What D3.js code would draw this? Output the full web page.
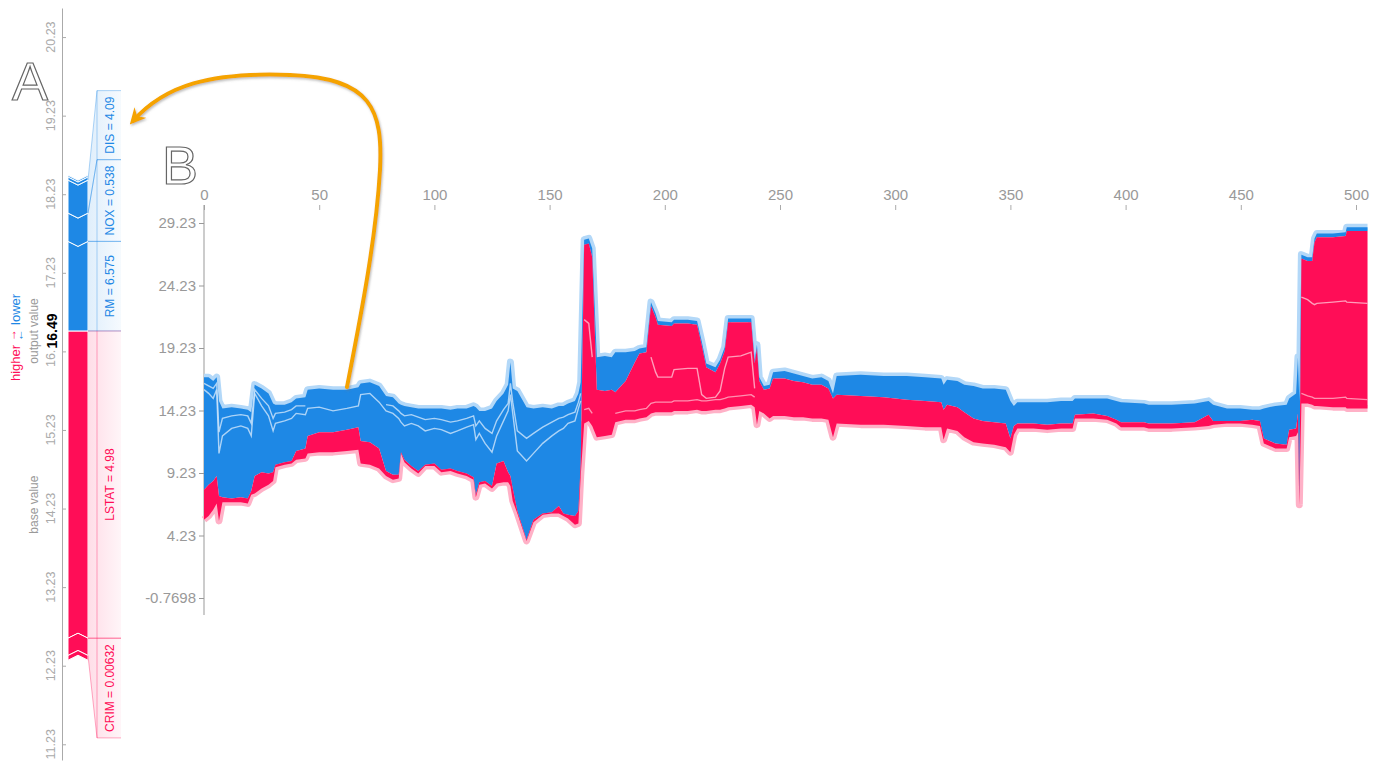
<!DOCTYPE html>
<html>
<head>
<meta charset="utf-8">
<script src="https://cdn.jsdelivr.net/npm/d3@7"></script>
<style>
  body { margin: 0; background: #fff; }
  svg { font-family: "Liberation Sans", Arial, sans-serif; }
</style>
</head>
<body>
<svg id="chart" width="1382" height="764"></svg>
<script>
// ---------- panel B : stacked force plot, one row per breakpoint ----------
const sampleIdx = [
  0, 2, 4, 5.5, 6.5, 8, 12, 16, 19, 20.5,
  22, 25, 28, 30, 31, 35, 38, 40, 44, 45,
  50, 56, 62, 67, 68, 72, 76, 79, 82, 84.5,
  85.5, 87, 90, 93, 96, 100, 103, 107, 110, 114,
  117, 118, 119.5, 122, 125, 127, 130, 132, 133, 134,
  136, 140, 143, 147, 151, 154, 156, 158, 161, 162.5,
  163.5, 165, 167, 168.5, 170.5, 174, 177, 178.5, 183, 187,
  189, 192, 194, 196, 197, 203, 204, 210, 214, 216,
  218, 222, 224, 226, 227.5, 233, 237.5, 239, 240, 241,
  243, 245.5, 247, 252, 256, 260, 264, 268, 271, 273,
  274.6, 285, 295, 305, 313, 320, 321, 322.5, 327, 330,
  334, 338, 343, 348, 350, 351.5, 353, 360, 366, 372,
  377, 378, 386, 392, 396, 398, 408, 410, 420, 430,
  436, 438, 444, 449.7, 455, 458.3, 460, 465, 469.9, 471,
  474, 474.8, 475.4, 476.3, 479, 481, 482, 483, 490, 495.5,
  496, 505
];
// top of the blue (lower-pushing) band
const upperVals = [
  16.9, 16.9, 16.6, 16.9, 15.0, 14.4, 14.5, 14.4, 14.3, 14.1,
  16.3, 16.0, 15.6, 14.8, 14.7, 14.7, 14.9, 15.2, 15.3, 15.9,
  16.0, 15.9, 15.9, 16.1, 16.4, 16.5, 16.2, 15.4, 15.3, 14.8,
  14.7, 14.6, 14.5, 14.4, 14.4, 14.4, 14.4, 14.3, 14.4, 14.4,
  14.6, 14.5, 14.2, 14.2, 14.4, 15.0, 15.6, 16.3, 18.1, 16.0,
  15.8, 14.5, 14.4, 14.5, 14.4, 14.6, 14.6, 14.8, 15.0, 15.6,
  16.5, 27.9, 28.0, 27.2, 18.5, 18.6, 18.5, 18.9, 18.9, 19.0,
  19.2, 19.3, 22.9, 22.0, 21.4, 21.3, 21.5, 21.5, 21.4, 19.8,
  18.0, 17.7, 18.3, 19.3, 21.6, 21.6, 21.6, 18.3, 19.5, 16.9,
  16.2, 16.3, 17.3, 17.4, 17.2, 17.0, 16.8, 16.9, 16.6, 15.6,
  17.0, 17.1, 17.0, 17.0, 16.9, 16.8, 16.3, 16.7, 16.6, 16.3,
  16.2, 16.0, 16.0, 15.9, 15.0, 14.6, 14.9, 14.9, 14.9, 15.0,
  15.0, 15.2, 15.2, 15.2, 15.0, 14.9, 14.8, 14.7, 14.7, 14.8,
  15.0, 14.7, 14.4, 14.4, 14.3, 14.3, 14.4, 14.6, 14.7, 15.2,
  15.6, 18.5, 15.0, 26.7, 26.5, 26.5, 28.0, 28.4, 28.4, 28.5,
  28.9, 28.9
];
// model output (border between red and blue)
const outputVals = [
  7.9, 8.3, 8.6, 9.0, 7.4, 7.3, 7.2, 7.3, 7.2, 7.8,
  9.0, 9.3, 9.2, 9.3, 9.9, 10.1, 10.2, 11.0, 11.2, 12.2,
  12.5, 12.5, 12.7, 12.9, 11.8, 11.7, 11.2, 9.4, 9.1, 9.1,
  10.9, 10.3, 9.8, 9.4, 9.9, 10.0, 9.5, 9.6, 9.4, 9.2,
  8.9, 7.5, 8.5, 8.6, 8.2, 10.0, 10.2, 9.3, 9.0, 8.0,
  6.2, 3.9, 5.5, 6.0, 6.1, 6.6, 6.0, 5.9, 5.8, 6.2,
  10.0, 27.5, 27.6, 26.5, 15.9, 15.8, 15.9, 15.7, 16.6, 18.1,
  18.8, 18.9, 22.6, 21.7, 21.1, 21.0, 21.2, 21.2, 21.1, 19.5,
  17.7, 17.3, 18.0, 19.0, 21.3, 21.3, 21.3, 18.0, 19.2, 16.6,
  15.9, 16.0, 16.8, 16.8, 16.6, 16.5, 16.3, 16.3, 16.0, 15.2,
  15.5, 15.4, 15.3, 15.1, 15.0, 14.9, 14.3, 14.7, 14.5, 14.1,
  13.6, 13.4, 13.3, 13.2, 12.0, 13.0, 13.2, 13.2, 13.1, 13.2,
  13.2, 13.9, 14.0, 13.8, 13.5, 13.3, 13.3, 13.2, 13.2, 13.3,
  13.9, 13.4, 13.4, 13.4, 13.5, 13.4, 12.0, 11.6, 11.5, 12.7,
  12.8, 14.0, 7.3, 26.4, 26.2, 26.2, 27.7, 28.1, 28.1, 28.2,
  28.6, 28.6
];
// bottom of the red (higher-pushing) band
const lowerVals = [
  5.5, 5.8, 6.3, 6.8, 5.4, 6.9, 6.9, 6.9, 6.8, 7.5,
  7.6, 8.0, 8.3, 8.6, 9.7, 9.9, 10.0, 10.3, 10.4, 10.8,
  10.9, 10.9, 11.0, 11.1, 10.0, 9.9, 9.6, 9.0, 8.7, 8.8,
  10.8, 10.1, 9.6, 9.2, 9.8, 9.8, 9.3, 9.4, 9.2, 9.0,
  8.7, 7.3, 8.3, 8.4, 8.0, 8.4, 8.5, 8.5, 8.2, 7.0,
  6.0, 3.8, 5.3, 5.9, 6.0, 6.0, 5.8, 5.6, 5.1, 5.2,
  9.0, 13.2, 13.4, 13.0, 12.1, 12.2, 12.3, 13.3, 13.5, 13.5,
  13.6, 13.7, 14.0, 14.1, 14.1, 14.1, 14.2, 14.2, 14.3, 14.2,
  14.2, 14.3, 14.3, 14.4, 14.5, 14.6, 14.7, 14.5, 13.1, 14.2,
  14.0, 13.6, 13.8, 13.8, 13.7, 13.7, 13.6, 13.6, 13.5, 12.1,
  13.2, 13.1, 13.1, 13.0, 12.9, 12.9, 11.9, 12.8, 12.6, 12.1,
  11.7, 11.6, 11.5, 11.3, 10.9, 12.3, 12.8, 12.8, 12.7, 12.8,
  12.8, 13.6, 13.6, 13.5, 13.2, 12.9, 12.9, 12.8, 12.8, 12.9,
  13.0, 13.1, 13.2, 13.2, 13.1, 13.0, 11.6, 11.2, 11.2, 12.1,
  12.2, 12.5, 6.7, 14.8, 14.8, 14.7, 14.6, 14.6, 14.5, 14.5,
  14.4, 14.4
];
// feature borders visible inside the blue band
const blueLineVals = [
  15.9, 15.6, 15.2, 15.9, 10.8, 12.2, 12.8, 13.0, 12.8, 12.2,
  15.6, 14.6, 13.8, 12.6, 13.2, 13.4, 13.6, 14.0, 13.9, 14.4,
  14.5, 14.2, 14.4, 14.6, 15.5, 15.6, 14.9, 14.2, 14.0, 13.6,
  13.3, 13.0, 13.2, 13.0, 12.6, 12.8, 12.7, 12.4, 12.6, 12.9,
  13.1, 11.9, 12.4, 11.6, 10.9, 12.2, 13.4, 14.2, 15.5, 14.0,
  11.0, 10.2, 10.8, 11.6, 12.2, 12.6, 12.8, 13.2, 13.4, 14.4,
  15.0, null, null, null, null, null, null, null, null, null,
  null, null, null, null, null, null, null, null, null, null,
  null, null, null, null, null, null, null, null, null, null,
  null, null, null, null, null, null, null, null, null, null,
  null, null, null, null, null, null, null, null, null, null,
  null, null, null, null, null, null, null, null, null, null,
  null, null, null, null, null, null, null, null, null, null,
  null, null, null, null, null, null, null, null, null, null,
  null, null, null, null, null, null, null, null, null, null,
  null, null
];
const blueLine2Vals = [
  16.4, 16.2, 16.0, 16.4, 12.5, 13.6, 13.8, 13.9, 13.8, 13.2,
  15.9, 15.2, 14.6, 13.6, 14.0, 14.1, 14.3, 14.6, 14.6, null,
  null, null, null, null, null, null, null, 14.7, 14.6, 14.2,
  14.0, 13.8, 13.9, 13.7, 13.5, 13.6, 13.5, 13.3, 13.4, 13.6,
  13.8, 13.0, 13.4, 12.8, 12.4, 13.4, 14.3, 14.8, 16.4, 14.9,
  12.6, 12.0, 12.4, 12.9, 13.3, 13.6, 13.7, 13.9, 14.1, 14.9,
  15.6, null, null, null, null, null, null, null, null, null,
  null, null, null, null, null, null, null, null, null, null,
  null, null, null, null, null, null, null, null, null, null,
  null, null, null, null, null, null, null, null, null, null,
  null, null, null, null, null, null, null, null, null, null,
  null, null, null, null, null, null, null, null, null, null,
  null, null, null, null, null, null, null, null, null, null,
  null, null, null, null, null, null, null, null, null, null,
  null, null, null, null, null, null, null, null, null, null,
  null, null
];
// feature borders visible inside the red band
const redLineVals = [
  null, null, null, null, null, null, null, null, null, null,
  null, null, null, null, null, null, null, null, null, null,
  null, null, null, null, null, null, null, null, null, null,
  null, null, null, null, null, null, null, null, null, null,
  null, null, null, null, null, null, null, null, null, null,
  null, null, null, null, null, null, null, null, null, null,
  null, 21.5, 21.2, 18.5, null, null, null, null, null, null,
  null, null, 18.5, 17.3, 16.9, 16.9, 17.5, 17.6, 17.6, 15.5,
  15.2, 15.3, 15.8, 17.6, 18.5, 18.6, 18.9, 16.0, null, null,
  null, null, null, null, null, null, null, null, null, null,
  null, null, null, null, null, null, null, null, null, null,
  null, null, null, null, null, null, null, null, null, null,
  null, null, null, null, null, null, null, null, null, null,
  null, null, null, null, null, null, null, null, null, null,
  null, null, null, 23.3, 23.1, 22.8, 22.7, 22.8, 22.9, 23.0,
  22.9, 22.8
];
const redLine2Vals = [
  null, null, null, null, null, null, null, null, null, null,
  null, null, null, null, null, null, null, null, null, null,
  null, null, null, null, null, null, null, null, null, null,
  null, null, null, null, null, null, null, null, null, null,
  null, null, null, null, null, null, null, null, null, null,
  null, null, null, null, null, null, null, null, null, null,
  null, 14.3, 14.4, 14.0, null, null, null, 14.0, 14.2, 14.2,
  14.3, 14.4, 14.8, 14.9, 14.9, 14.9, 15.0, 15.0, 15.1, 15.0,
  15.0, 15.1, 15.1, 15.2, 15.3, 15.4, 15.5, 15.3, null, null,
  null, null, null, null, null, null, null, null, null, null,
  null, null, null, null, null, null, null, null, null, null,
  null, null, null, null, null, null, null, null, null, null,
  null, null, null, null, null, null, null, null, null, null,
  null, null, null, null, null, null, null, null, null, null,
  null, null, null, 15.6, 15.4, 15.3, 15.2, 15.2, 15.2, 15.3,
  15.2, 15.1
];
const xTicksB = [0, 50, 100, 150, 200, 250, 300, 350, 400, 450, 500];
const yTicksB = [29.23, 24.23, 19.23, 14.23, 9.23, 4.23, -0.7698];

// ---------- panel A : single explanation ----------
const outputValue = 16.49;
const redLabels = ["LSTAT = 4.98", "CRIM = 0.00632", ""];
const redEffects = [3.91, 0.22, 0.06];
const blueLabels = ["RM = 6.575", "NOX = 0.538", "DIS = 4.09", "", ""];
const blueEffects = [1.14, 0.36, 0.42, 0.04, 0.02];
const yTicksA = [20.23, 19.23, 18.23, 17.23, 16.23, 15.23, 14.23, 13.23, 12.23, 11.23];

const RED = "#ff0d57", BLUE = "#1e88e5";
const svg = d3.select("#chart");
const defs = svg.append("defs");

// ================= panel A =================
const yA = d3.scaleLinear().domain([20.6, 11.03]).range([8, 760]);
const AX = 62, BAR0 = 68, BAR1 = 88, BOX0 = 97, BOX1 = 121, CHEV = 5;

svg.append("g")
  .attr("transform", "translate(" + AX + ",0)")
  .call(d3.axisRight(yA).tickValues(yTicksA).tickSize(4).tickSizeOuter(0).tickFormat(""))
  .call(g => g.selectAll("path,line").attr("stroke", "#aaa"));

svg.append("g").selectAll("text")
  .data(yTicksA)
  .enter().append("text")
  .attr("transform", d => "translate(55," + yA(d) + ") rotate(-90)")
  .attr("text-anchor", "middle")
  .attr("font-size", 12.5)
  .attr("fill", "#aaa")
  .text(d => d.toFixed(2));

// feature blocks
var redBlocks = [], blueBlocks = [], acc = outputValue;
redEffects.forEach((e, k) => { redBlocks.push({lo: acc - e, hi: acc, label: redLabels[k]}); acc -= e; });
acc = outputValue;
blueEffects.forEach((e, k) => { blueBlocks.push({lo: acc, hi: acc + e, label: blueLabels[k]}); acc += e; });
const baseValue = outputValue - d3.sum(redEffects) + d3.sum(blueEffects);
const BM = (BAR0 + BAR1) / 2;

svg.append("g").selectAll("path.red")
  .data(redBlocks)
  .enter().append("path")
  .attr("d", d => {
    const t = yA(d.hi), b = yA(d.lo);
    const tm = d.hi === outputValue ? t : t - CHEV;
    return "M" + BAR0 + "," + t + "L" + BM + "," + tm + "L" + BAR1 + "," + t +
      "L" + BAR1 + "," + b + "L" + BM + "," + (b - CHEV) + "L" + BAR0 + "," + b + "Z";
  })
  .attr("fill", RED).attr("stroke", "#fff").attr("stroke-width", 1);

svg.append("g").selectAll("path.blue")
  .data(blueBlocks)
  .enter().append("path")
  .attr("d", d => {
    const t = yA(d.hi), b = yA(d.lo);
    const bm = d.lo === outputValue ? b : b + CHEV;
    return "M" + BAR0 + "," + b + "L" + BM + "," + bm + "L" + BAR1 + "," + b +
      "L" + BAR1 + "," + t + "L" + BM + "," + (t + CHEV) + "L" + BAR0 + "," + t + "Z";
  })
  .attr("fill", BLUE).attr("stroke", "#fff").attr("stroke-width", 1);

// label boxes
[["redGrad", RED], ["blueGrad", BLUE]].forEach(p => {
  const gr = defs.append("linearGradient").attr("id", p[0]).attr("x1", "0").attr("x2", "1");
  gr.append("stop").attr("offset", "0").attr("stop-color", p[1]).attr("stop-opacity", 0.14);
  gr.append("stop").attr("offset", "1").attr("stop-color", p[1]).attr("stop-opacity", 0.04);
});

const labelG = svg.append("g");
function measure(txt) {
  const t = labelG.append("text").attr("font-size", 12).text(txt);
  const w = t.node().getComputedTextLength();
  t.remove();
  return w;
}
function layoutLabels(blocks, dir, color, grad) {
  var cursor = yA(outputValue);
  blocks.filter(d => d.label).forEach(d => {
    const fs = dir > 0 ? yA(d.hi) : yA(d.lo);
    const fe = dir > 0 ? yA(d.lo) : yA(d.hi);
    const bs = dir > 0 ? Math.max(cursor, fs) : Math.min(cursor, fs);
    const len = Math.max((fe - bs) * dir, measure(d.label) + 12);
    const be = bs + dir * len;
    cursor = be;
    labelG.append("path")
      .attr("d", "M" + BAR1 + "," + fs + "L" + BOX0 + "," + bs + "L" + BOX1 + "," + bs +
        "L" + BOX1 + "," + be + "L" + BOX0 + "," + be + "L" + BAR1 + "," + fe + "Z")
      .attr("fill", "url(#" + grad + ")");
    labelG.append("path")
      .attr("d", "M" + BOX1 + "," + bs + "L" + BOX0 + "," + bs + "L" + BAR1 + "," + fs +
        "M" + BOX1 + "," + be + "L" + BOX0 + "," + be + "L" + BAR1 + "," + fe +
        "M" + BOX0 + "," + bs + "L" + BOX0 + "," + be)
      .attr("fill", "none").attr("stroke", color).attr("stroke-opacity", 0.35).attr("stroke-width", 1);
    labelG.append("text")
      .attr("transform", "translate(114," + (bs + be) / 2 + ") rotate(-90)")
      .attr("text-anchor", "middle")
      .attr("font-size", 12)
      .attr("fill", color)
      .text(d.label);
  });
}
layoutLabels(redBlocks, 1, RED, "redGrad");
layoutLabels(blueBlocks, -1, BLUE, "blueGrad");

// output / base value texts
const yOut = yA(outputValue);
svg.append("rect").attr("x", 42).attr("y", yOut - 20).attr("width", 17).attr("height", 39).attr("fill", "#fff");
svg.append("text")
  .attr("transform", "translate(57," + yOut + ") rotate(-90)")
  .attr("text-anchor", "middle").attr("font-size", 14).attr("font-weight", "bold").attr("fill", "#000")
  .text(outputValue.toFixed(2));
svg.append("text")
  .attr("transform", "translate(38," + yOut + ") rotate(-90)")
  .attr("text-anchor", "middle").attr("font-size", 12).attr("fill", "#999")
  .text("output value");
svg.append("text")
  .attr("transform", "translate(38," + yA(baseValue) + ") rotate(-90)")
  .attr("text-anchor", "middle").attr("font-size", 12).attr("fill", "#999")
  .text("base value");

const hl = svg.append("g").attr("transform", "translate(20," + (yOut + 4) + ") rotate(-90)");
hl.append("text").attr("x", -10).attr("text-anchor", "end").attr("font-size", 13).attr("fill", RED).text("higher");
hl.append("text").attr("x", 0).attr("y", -4).attr("text-anchor", "middle").attr("font-size", 12).attr("fill", RED).text("\u2192");
hl.append("text").attr("x", 0).attr("y", 3).attr("text-anchor", "middle").attr("font-size", 12).attr("fill", BLUE).text("\u2190");
hl.append("text").attr("x", 10).attr("text-anchor", "start").attr("font-size", 13).attr("fill", BLUE).text("lower");

// ================= panel B =================
const xB = d3.scaleLinear().domain([0, 506]).range([204, 204 + 506 * 2.304]);
const yB = d3.scaleLinear().domain([29.23, -0.7698]).range([223, 598]);
const rows = sampleIdx.map((s, k) => ({
  i: s, up: upperVals[k], out: outputVals[k], low: lowerVals[k],
  bl: blueLineVals[k], bl2: blueLine2Vals[k], rl: redLineVals[k], rl2: redLine2Vals[k]
}));

svg.append("g")
  .attr("transform", "translate(0,210)")
  .call(d3.axisTop(xB).tickValues(xTicksB).tickSize(5).tickPadding(5))
  .call(g => g.select(".domain").remove())
  .call(g => g.selectAll("line").attr("stroke", "#aaa"))
  .call(g => g.selectAll("text").attr("fill", "#999").attr("font-size", 15).attr("font-family", null));

const yAxisB = d3.axisLeft(yB).tickValues(yTicksB).tickFormat(d => String(d)).tickSize(5).tickPadding(3).tickSizeOuter(0);
const yG = svg.append("g").attr("transform", "translate(204,0)").call(yAxisB);
yG.select(".domain").attr("d", "M0," + 205 + "V" + 615);
yG.selectAll("path,line").attr("stroke", "#999");
yG.selectAll("text").attr("fill", "#999").attr("font-size", 15).attr("font-family", null);

const edgeUp = d3.line().x(d => xB(d.i)).y(d => yB(d.up));
const edgeLow = d3.line().x(d => xB(d.i)).y(d => yB(d.low));
svg.append("path").datum(rows).attr("d", edgeUp)
  .attr("fill", "none").attr("stroke", "#b3d8f8").attr("stroke-width", 7).attr("stroke-linejoin", "round");
svg.append("path").datum(rows).attr("d", edgeLow)
  .attr("fill", "none").attr("stroke", "#ffb1c7").attr("stroke-width", 7).attr("stroke-linejoin", "round");

svg.append("path").datum(rows)
  .attr("d", d3.area().x(d => xB(d.i)).y0(d => yB(d.out)).y1(d => yB(d.up)))
  .attr("fill", BLUE);
svg.append("path").datum(rows)
  .attr("d", d3.area().x(d => xB(d.i)).y0(d => yB(d.low)).y1(d => yB(d.out)))
  .attr("fill", RED);

function innerLine(key, color) {
  svg.append("path").datum(rows)
    .attr("d", d3.line().defined(d => d[key] != null).x(d => xB(d.i)).y(d => yB(d[key])))
    .attr("fill", "none").attr("stroke", color).attr("stroke-opacity", 0.8).attr("stroke-width", 1.4);
}
innerLine("bl", "#cfe6fb");
innerLine("bl2", "#cfe6fb");
innerLine("rl", "#ffc2d3");
innerLine("rl2", "#ffb1c7");

// ================= annotations =================
svg.append("text").attr("x", 12).attr("y", 100).attr("font-size", 54)
  .attr("font-family", "'Liberation Sans Narrow','Liberation Sans',Arial")
  .attr("fill", "#fff").attr("stroke", "#666").attr("stroke-width", 1.2).text("A");
svg.append("text").attr("x", 162).attr("y", 184).attr("font-size", 54)
  .attr("font-family", "'Liberation Sans Narrow','Liberation Sans',Arial")
  .attr("fill", "#fff").attr("stroke", "#666").attr("stroke-width", 1.2).text("B");

const shadow = defs.append("filter").attr("id", "shadow").attr("x", "-20%").attr("y", "-20%").attr("width", "140%").attr("height", "140%");
shadow.append("feDropShadow").attr("dx", 1).attr("dy", 1.5).attr("stdDeviation", 1.2)
  .attr("flood-color", "#777").attr("flood-opacity", 0.5);
defs.append("marker").attr("id", "head").attr("viewBox", "0 0 10 10")
  .attr("refX", 7).attr("refY", 5).attr("markerWidth", 16).attr("markerHeight", 16)
  .attr("markerUnits", "userSpaceOnUse").attr("orient", "auto")
  .append("path").attr("d", "M0,0 L10,5 L0,10 L3,5 Z").attr("fill", "#f5a300");
svg.append("path")
  .attr("d", "M347,387 C360,320 376,240 380,170 C383,110 372,78 290,75 C210,72 165,85 133,121")
  .attr("fill", "none").attr("stroke", "#f5a300").attr("stroke-width", 4).attr("stroke-linecap", "round")
  .attr("marker-end", "url(#head)").attr("filter", "url(#shadow)");
</script>
</body>
</html>
